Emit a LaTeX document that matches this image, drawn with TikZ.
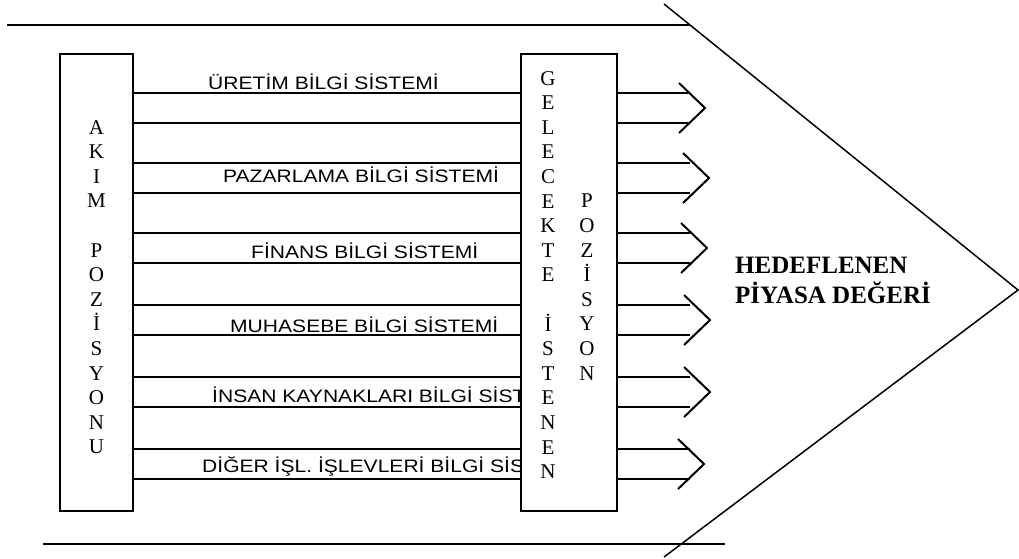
\documentclass[tikz,border=0pt]{standalone}
\usepackage{fontspec}
\setmainfont{Liberation Serif}
\newfontfamily\etiketfont[FakeStretch=1.17]{Liberation Sans}
\usetikzlibrary{calc}

\begin{document}
\begin{tikzpicture}[x=1pt, y=-1pt, line join=miter,
    hat/.style={line width=2pt},
    ince/.style={line width=1.5pt},
    kutu/.style={draw, line width=2pt, fill=white, inner sep=0pt, minimum height=457pt},
    harf/.style={align=center, inner sep=0pt, anchor=north, font=\fontsize{21}{24.6}\selectfont},
    etiket/.style={anchor=base west, inner sep=0pt, font=\etiketfont\fontsize{18}{20}\selectfont}]
        \useasboundingbox (0,0) rectangle (1019,558);

        % 大箭头外形
        \coordinate (U1) at (7,25);
        \coordinate (U2) at (690,25);
        \coordinate (A1) at (43,544);
        \coordinate (A2) at (725,544);
        \coordinate (D1) at (664,4);
        \coordinate (T) at (1018,290);
        \coordinate (D2) at (664,557);
        \draw[hat] (U1) -- (U2);
        \draw[hat] (A1) -- (A2);
        \draw[ince] (D1) -- (T) -- (D2);

        % 左框: 当前位置
        \node[kutu, minimum width=73pt] (akim) at (96.5,282.5) {};
        \node[harf] (akimyazi) at (96.5,120) {A\\K\\I\\M\\[24.6pt]P\\O\\Z\\İ\\S\\Y\\O\\N\\U};

        % 各信息系统标签
        \node[etiket] (uretim) at (208,89) {ÜRETİM BİLGİ SİSTEMİ};
        \node[etiket] (pazarlama) at (223,182) {PAZARLAMA BİLGİ SİSTEMİ};
        \node[etiket] (finans) at (251,258) {FİNANS BİLGİ SİSTEMİ};
        \node[etiket] (muhasebe) at (230,332) {MUHASEBE BİLGİ SİSTEMİ};
        \node[etiket] (insan) at (212,402) {İNSAN KAYNAKLARI BİLGİ SİST};
        \node[etiket] (diger) at (202,472) {DİĞER İŞL. İŞLEVLERİ BİLGİ SİS};

        % 右框: 目标位置 (盖住过长的标签)
        \node[kutu, minimum width=96pt] (istenen) at (569,282.5) {};
        \node[harf] (gelecekte) at (548,71) {G\\E\\L\\E\\C\\E\\K\\T\\E\\[24.6pt]İ\\S\\T\\E\\N\\E\\N};
        \node[harf] (pozisyon) at (587,194) {P\\O\\Z\\İ\\S\\Y\\O\\N};

        % 连线与箭头
        \foreach \y/\u/\x in {93/1/705, 163/2/709, 233/3/707, 305/4/710, 377/5/710, 449/6/704} {
            \coordinate (s\u) at (0,\y);
            \coordinate (t\u) at (0,\y+30);
            \coordinate (ok\u) at (690,\y);
            \coordinate (ik\u) at (690,\y+30);
            \coordinate (uc\u) at (\x,\y+15);
            \draw[hat] (akim.east |- s\u) -- (istenen.west |- s\u);
            \draw[hat] (akim.east |- t\u) -- (istenen.west |- t\u);
            \draw[hat] (istenen.east |- s\u) -- (ok\u);
            \draw[hat] (istenen.east |- t\u) -- (ik\u);
            \draw[hat] ($(uc\u)+(-26,-25)$) -- (uc\u) -- ($(uc\u)+(-26,25)$);
        }

        % 目标文字
        \node[anchor=north west, inner sep=0pt, align=left, font=\bfseries\fontsize{25}{30}\selectfont] (hedef) at (735,256.5) {HEDEFLENEN\\PİYASA DEĞERİ};
    \end{tikzpicture}
\end{document}
